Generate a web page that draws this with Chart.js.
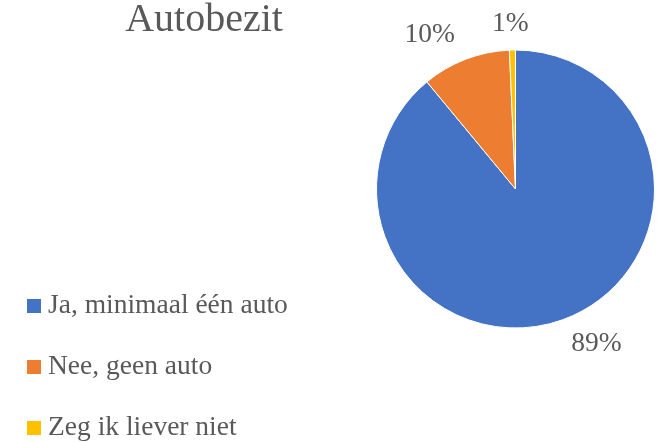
<!DOCTYPE html>
<html>
<head>
<meta charset="utf-8">
<script src="https://cdn.jsdelivr.net/npm/chart.js@4/dist/chart.umd.min.js"></script>
<style>
html, body { margin: 0; padding: 0; background: #fff; }
#wrap { width: 659px; height: 442px; position: relative; }
</style>
</head>
<body>
<div id="wrap"><canvas id="autobezit" width="659" height="442"></canvas></div>
<script>
var categories = ["Ja, minimaal één auto", "Nee, geen auto", "Zeg ik liever niet"];
var values = [89.0, 10.3, 0.7];
var colors = ["#4472C4", "#ED7D31", "#FFC000"];
var title = "Autobezit";

var textColor = "#595959";
var serif = '"Liberation Serif", serif';

// title, legend and percentage labels drawn on the canvas
var decorations = {
    id: "decorations",
    afterDatasetsDraw: function(chart){
        var ctx = chart.ctx;
        ctx.save();
        ctx.fillStyle = textColor;

        // title
        ctx.font = "40px " + serif;
        ctx.textAlign = "center";
        ctx.textBaseline = "alphabetic";
        ctx.fillText(title, 204, 31);

        // legend
        ctx.font = "27.5px " + serif;
        ctx.textAlign = "left";
        for(var i = 0; i < categories.length; i++){
            var base = 313 + i * 61;
            ctx.fillStyle = colors[i];
            ctx.fillRect(27, base - 14, 14, 14);
            ctx.fillStyle = textColor;
            ctx.fillText(categories[i], 48, base);
        }

        // percentage labels outside the slices
        var meta = chart.getDatasetMeta(0);
        var total = values.reduce(function(a, b){ return a + b; }, 0);
        ctx.textAlign = "center";
        ctx.textBaseline = "middle";
        meta.data.forEach(function(arc, i){
            var a = (arc.startAngle + arc.endAngle) / 2;
            var dx = Math.cos(a), dy = Math.sin(a);
            var px = arc.x + arc.outerRadius * dx;
            var py = arc.y + arc.outerRadius * dy;
            var txt = Math.round(values[i] / total * 100) + "%";
            var w = ctx.measureText(txt).width;
            var ox = Math.sign(dx) * Math.min(Math.abs(dx) * 100, w / 2 + 12);
            var oy = dy * 26;
            ctx.fillText(txt, px + ox, py + oy);
        });
        ctx.restore();
    }
};

var ctxP = document.getElementById("autobezit").getContext("2d");
var myPieChart = new Chart(ctxP, {
    type: "pie",
    data: {
        labels: categories,
        datasets: [
            {
                data: values,
                backgroundColor: colors,
                borderColor: "#ffffff",
                borderWidth: 1
            }
        ]
    },
    options: {
        responsive: false,
        animation: false,
        layout: {
            padding: { left: 376, right: 4, top: 49, bottom: 113 }
        },
        plugins: {
            legend: { display: false },
            title: { display: false },
            tooltip: { enabled: false }
        }
    },
    plugins: [decorations]
});
</script>
</body>
</html>
